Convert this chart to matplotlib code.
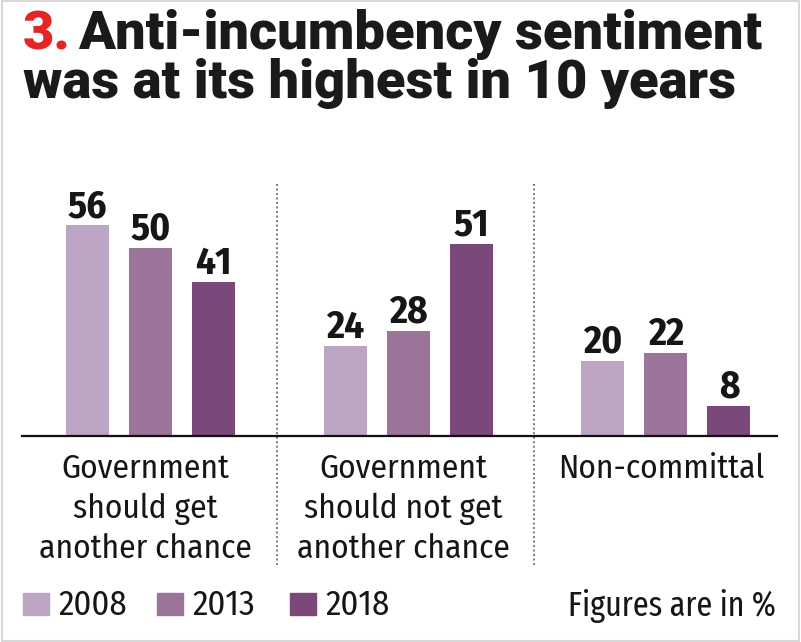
import numpy as np
from matplotlib import pyplot as plt
from matplotlib.patches import Rectangle

categories = ['Government\nshould get\nanother chance',
              'Government\nshould not get\nanother chance',
              'Non-committal']
years = ['2008', '2013', '2018']
v2008 = [56, 24, 20]
v2013 = [50, 28, 22]
v2018 = [41, 51, 8]

colors = ['#bba5c2', '#9b7499', '#7a4879']
W, H = 801, 642

BODY = ['Fira Sans Condensed', 'DejaVu Sans']
NOTE = ['Fira Sans Extra Condensed', 'DejaVu Sans']
HEAVY = ['Roboto', 'DejaVu Sans']

fig = plt.figure(figsize=(W / 100, H / 100), dpi=100)
fig.patch.set_facecolor('white')
renderer = fig.canvas.get_renderer()

ax = fig.add_axes([22 / W, (H - 436) / H, 755 / W, 226 / H])
ax.set_xlim(-0.498, 2.431)
ax.set_ylim(0, 60)
for s in ['top', 'left', 'right']:
    ax.spines[s].set_visible(False)
ax.spines['bottom'].set_linewidth(1.6)
ax.spines['bottom'].set_color('#111111')
ax.set_xticks([])
ax.set_yticks([])
ax.patch.set_alpha(0)

x = np.arange(len(categories))
step = 0.2444
for j, vals in enumerate([v2008, v2013, v2018]):
    xs = x + (j - 1) * step
    ax.bar(xs, vals, width=0.167, color=colors[j], zorder=2)
    for xi, v in zip(xs, vals):
        ax.annotate(str(v), (xi, v), xytext=(0, 5.8), textcoords='offset points',
                    ha='center', va='baseline', fontsize=28, fontweight='bold',
                    family=BODY, color='#161616')

# dotted separators between groups
for sx in [0.49, 1.49]:
    ax.axvline(sx, ymin=-0.57, ymax=1.12, clip_on=False, color='#666666',
               lw=1.3, ls=(0, (1, 1.5)), zorder=1)

# category labels, line by line (sit a little left of the bar groups)
for xi, cat in zip(x, categories):
    cx = ax.transData.transform((xi, 0))[0] / W - 5 / W
    for k, line in enumerate(cat.split('\n')):
        fig.text(cx, 1 - (478 + 40 * k) / H, line, ha='center', va='baseline',
                 fontsize=24, family=BODY, color='#161616')

# title - size fitted to the widths in the reference
t1 = fig.text(78 / W, 1 - 49 / H, 'Anti-incumbency sentiment', ha='left', va='baseline',
              fontsize=32, fontweight=900, family=HEAVY, color='#1a1a1a')
t2 = fig.text(23 / W, 1 - 98 / H, 'was at its highest in 10 years', ha='left',
              va='baseline', fontsize=32, fontweight=900, family=HEAVY, color='#1a1a1a')
w1 = t1.get_window_extent(renderer).width
w2 = t2.get_window_extent(renderer).width
tsize = 32 * (690 / w1 + 707 / w2) / 2
t1.set_fontsize(tsize)
t2.set_fontsize(tsize)
fig.text(23 / W, 1 - 49 / H, '3.', ha='left', va='baseline', fontsize=tsize,
         fontweight=900, family=HEAVY, color='#e32526')

# legend
leg_x = [23, 157, 290]
for lx, c, yr in zip(leg_x, colors, years):
    fig.patches.append(Rectangle((lx / W, 1 - 615 / H), 26 / W, 22 / H,
                                 transform=fig.transFigure, color=c))
    fig.text((lx + 35) / W, 1 - 615 / H, yr, ha='left', va='baseline', fontsize=25,
             family=BODY, color='#161616')
fig.text(776 / W, 1 - 616 / H, 'Figures are in %', ha='right', va='baseline',
         fontsize=25, family=NOTE, color='#161616')

# light frame round the graphic
fig.patches.append(Rectangle((0.002, 0.002), 0.996, 0.996, transform=fig.transFigure,
                             fill=False, ec='#d8d8d8', lw=1.5))

fig.savefig('out.png', dpi=100)
